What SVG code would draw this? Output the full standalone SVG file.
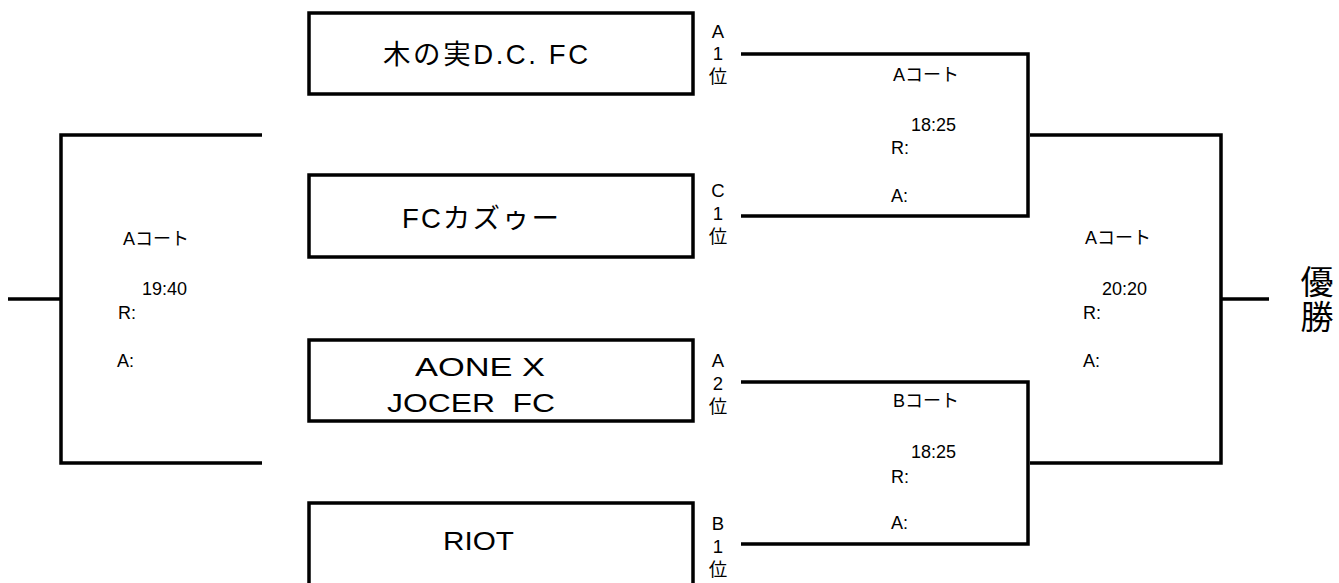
<svg xmlns="http://www.w3.org/2000/svg" width="1339" height="583" viewBox="0 0 1339 583">
<style>
  .ln { stroke: #000; stroke-width: 3.5; fill: none; }
  .box { stroke: #000; stroke-width: 3.5; fill: #fff; }
  .team { font-family: "Liberation Sans", "Noto Sans CJK JP", sans-serif; font-size: 27.5px; fill: #000; white-space: pre; }
  .rank { font-family: "Liberation Sans", "Noto Sans CJK JP", sans-serif; font-size: 18.5px; fill: #000; text-anchor: middle; }
  .info { font-family: "Liberation Sans", "Noto Sans CJK JP", sans-serif; font-size: 18px; fill: #000; }
  .win { font-family: "Noto Sans CJK JP", sans-serif; font-size: 33px; fill: #000; writing-mode: vertical-rl; letter-spacing: 2px; }
</style>
<rect width="1339" height="583" fill="#fff"/>
<g id="connectors">
  <!-- semifinal 1 -->
  <path class="ln" d="M741 54 H1028 V216 H741"/>
  <!-- semifinal 2 -->
  <path class="ln" d="M741 382 H1028 V544 H741"/>
  <!-- final -->
  <path class="ln" d="M1030 135 H1221 V463 H1030"/>
  <line class="ln" x1="1221" y1="299" x2="1269" y2="299"/>
  <!-- left bracket -->
  <path class="ln" d="M262 135 H61 V463 H262"/>
  <line class="ln" x1="8" y1="299" x2="61" y2="299"/>
</g>
<g id="team1">
  <rect class="box" x="309" y="13" width="384" height="81"/>
  <text class="team" x="383" y="64" textLength="205" lengthAdjust="spacing">木の実D.C. FC</text>
  <text class="rank" x="718"><tspan x="718" y="38">A</tspan><tspan x="718" y="60">1</tspan><tspan x="718" y="83">位</tspan></text>
</g>
<g id="team2">
  <rect class="box" x="309" y="175" width="384" height="82"/>
  <text class="team" x="402" y="228" textLength="157" lengthAdjust="spacing">FCカズゥー</text>
  <text class="rank" x="718"><tspan x="718" y="197">C</tspan><tspan x="718" y="220">1</tspan><tspan x="718" y="243">位</tspan></text>
</g>
<g id="team3">
  <rect class="box" x="309" y="340" width="384" height="81"/>
  <text class="team" x="415" y="376" textLength="130" lengthAdjust="spacingAndGlyphs" style="font-size:26px">AONE X</text>
  <text class="team" x="387" y="412" textLength="168" lengthAdjust="spacingAndGlyphs" style="font-size:26px">JOCER  FC</text>
  <text class="rank" x="718"><tspan x="718" y="367">A</tspan><tspan x="718" y="390">2</tspan><tspan x="718" y="413">位</tspan></text>
</g>
<g id="team4">
  <path class="ln" d="M309 590 V503 H693 V590"/>
  <text class="team" x="443" y="550" textLength="71" lengthAdjust="spacingAndGlyphs" style="font-size:26.5px">RIOT</text>
  <text class="rank" x="718"><tspan x="718" y="530">B</tspan><tspan x="718" y="553">1</tspan><tspan x="718" y="576">位</tspan></text>
</g>
<g id="match-semi1">
  <text class="info" x="893" y="81">Aコート</text>
  <text class="info" x="911" y="131">18:25</text>
  <text class="info" x="891" y="154">R:</text>
  <text class="info" x="891" y="202">A:</text>
</g>
<g id="match-semi2">
  <text class="info" x="893" y="407">Bコート</text>
  <text class="info" x="911" y="458">18:25</text>
  <text class="info" x="891" y="483">R:</text>
  <text class="info" x="891" y="529">A:</text>
</g>
<g id="match-final">
  <text class="info" x="1085" y="244">Aコート</text>
  <text class="info" x="1102" y="295">20:20</text>
  <text class="info" x="1083" y="319">R:</text>
  <text class="info" x="1083" y="367">A:</text>
</g>
<g id="match-left">
  <text class="info" x="123" y="245">Aコート</text>
  <text class="info" x="142" y="295">19:40</text>
  <text class="info" x="118" y="319">R:</text>
  <text class="info" x="117" y="367">A:</text>
</g>
<g id="champion">
  <text class="win" x="1317" y="265">優勝</text>
</g>
</svg>
